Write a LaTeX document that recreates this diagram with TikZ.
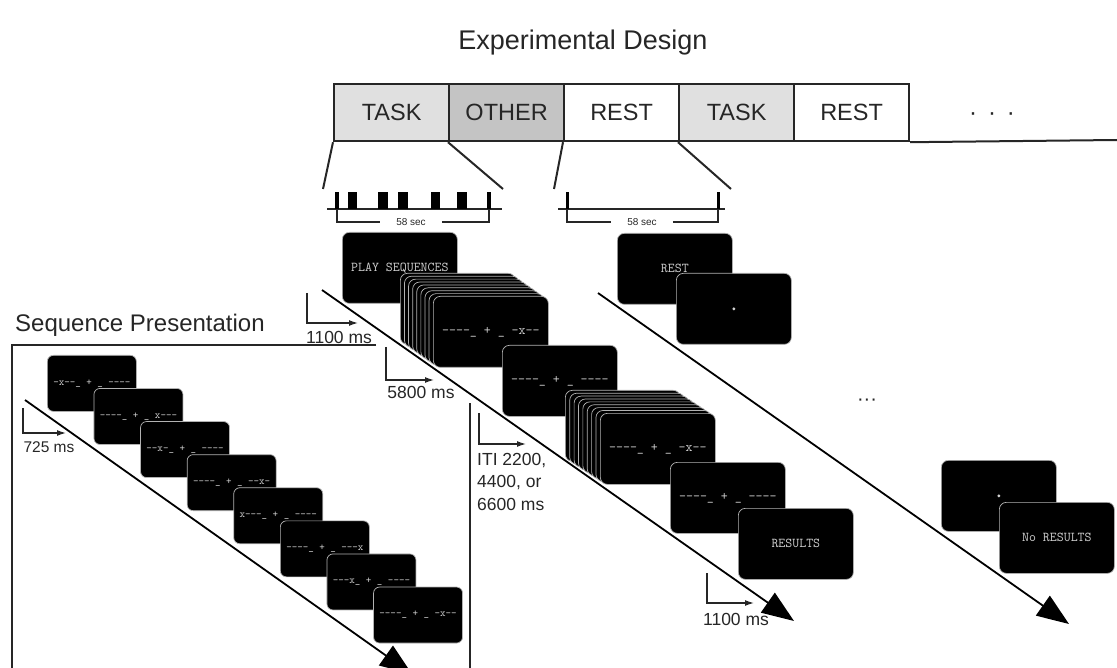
\documentclass[tikz,border=0pt]{standalone}
\usepackage{fontspec}
\setmainfont{Liberation Sans}
\usetikzlibrary{arrows.meta}
\definecolor{taskgray}{HTML}{E0E0E0}
\definecolor{othergray}{HTML}{C4C4C4}
\definecolor{scrtext}{HTML}{D0D0D0}
\definecolor{ink}{HTML}{262626}
\begin{document}
\begin{tikzpicture}[x=1pt,y=-1pt,
  blk/.style={draw=ink, line width=2.2pt, minimum width=115pt, minimum height=57pt, inner sep=0pt, anchor=north west, font=\fontsize{23.5}{26}\selectfont, text=ink},
  scr/.style={draw=gray!60, fill=black, line width=0.7pt, rounded corners=7pt, minimum width=115pt, minimum height=71pt, inner sep=0pt, anchor=north west, text=scrtext, font=\ttfamily\fontsize{13.5}{14}\selectfont},
  sscr/.style={scr, minimum width=89pt, minimum height=56pt, rounded corners=6pt, font=\ttfamily\fontsize{10.5}{12}\selectfont},
  lbl/.style={font=\fontsize{17.5}{22.5}\selectfont, text=ink, inner sep=0pt},
  sec/.style={font=\fontsize{10}{12}\selectfont, text=ink, inner ysep=0pt, inner xsep=16pt},
  zl/.style={line width=2pt, draw=ink},
  tl/.style={line width=1.5pt, draw=ink},
  bigarrow/.style={line width=1.8pt, draw=black, -{Triangle[length=32pt,width=24pt]}},
  tmark/.style={line width=1.3pt, draw=ink, -{Latex[length=9pt,width=6pt]}}
]
\useasboundingbox (0,0) rectangle (1117,668);

% title
\node[font=\fontsize{27}{30}\selectfont, text=ink] (title) at (583,43) {Experimental Design};

% block bar
\node[blk, fill=taskgray] (b1) at (333,83) {TASK};
\node[blk, fill=othergray] (b2) at (448,83) {OTHER};
\node[blk, fill=white] (b3) at (563,83) {REST};
\node[blk, fill=taskgray] (b4) at (678,83) {TASK};
\node[blk, fill=white] (b5) at (793,83) {REST};
\coordinate (barend) at (1117,140);
\draw[zl] (b5.south east) -- (barend);
\node[font=\fontsize{24}{26}\selectfont, text=ink] (tdots) at (992,117) {·\hspace{11pt}·\hspace{11pt}·};

% zoom lines
\coordinate (z1) at (323,189);
\coordinate (z2) at (503,189);
\coordinate (z3) at (554,189);
\coordinate (z4) at (731,189);
\draw[zl] (b1.south west) -- (z1);
\draw[zl] (b2.south west) -- (z2);
\draw[zl] (b3.south west) -- (z3);
\draw[zl] (b4.south west) -- (z4);

% timeline 1
\coordinate (t1a) at (327,209);
\coordinate (t1b) at (502,209);
\draw[tl] (t1a) -- (t1b);
\foreach \xa/\xb in {335/339, 348/357, 378/388, 398/408, 431/440, 457/467, 487/491}
  \fill[black] (\xa,192) rectangle (\xb,209);
\node[sec] (s1) at (411,222) {58 sec};
\draw[line width=1.3pt, draw=ink] (337,209) |- (s1.west);
\draw[line width=1.3pt, draw=ink] (s1.east) -| (489,209);

% timeline 2
\coordinate (t2a) at (558,209);
\coordinate (t2b) at (725,209);
\draw[tl] (t2a) -- (t2b);
\fill[black] (565.5,192) rectangle (568.5,209);
\fill[black] (716.5,192) rectangle (719.5,209);
\node[sec] (s2) at (642,222) {58 sec};
\draw[line width=1.3pt, draw=ink] (567,209) |- (s2.west);
\draw[line width=1.3pt, draw=ink] (s2.east) -| (718,209);

% task arrow
\coordinate (a1s) at (322,290);
\coordinate (a1e) at (794,621);
\draw[bigarrow] (a1s) -- (a1e);

% rest arrow
\coordinate (a2s) at (598,293);
\coordinate (a2e) at (1069,624);
\draw[bigarrow] (a2s) -- (a2e);

% task screens
\node[scr] (play) at (342,232) {PLAY SEQUENCES};
\foreach \i in {0,...,7}
  \node[scr] (stka\i) at (400+4.1*\i, 273+2.9*\i) {};
\node[scr] (f1) at (433,296) {----\_ + \_ -x--};
\node[scr] (q2) at (502,345) {----\_ + \_ ----};
\foreach \i in {0,...,7}
  \node[scr] (stkb\i) at (565+4.375*\i, 390+2.875*\i) {};
\node[scr] (f2) at (600,413) {----\_ + \_ -x--};
\node[scr] (q4) at (670,462) {----\_ + \_ ----};
\node[scr] (res) at (738,508) {RESULTS};

% rest screens
\node[scr] (rest) at (617,233) {REST};
\node[scr] (fix) at (676,273) {};
\fill[scrtext] (fix.center) circle (1.6);
\node[font=\fontsize{20}{22}\selectfont, text=ink] (mdots) at (867,402) {···};
\node[scr] (rfix) at (941,460) {};
\fill[scrtext] (rfix.center) circle (1.6);
\node[scr] (nores) at (999,502) {No RESULTS};

% time markers (task)
\coordinate (m1a) at (307,293);
\coordinate (m1b) at (358,323);
\draw[tmark] (m1a) |- (m1b);
\node[lbl] (l1) at (339,337) {1100 ms};
\coordinate (m2a) at (386,347);
\coordinate (m2b) at (434,380);
\draw[tmark] (m2a) |- (m2b);
\node[lbl] (l2) at (421,392) {5800 ms};
\coordinate (m3a) at (479,413);
\coordinate (m3b) at (526,444);
\draw[tmark] (m3a) |- (m3b);
\node[lbl, align=left, anchor=north west] (l3) at (477,453) {ITI 2200,\\4400, or\\6600 ms};
\coordinate (m4a) at (707,573);
\coordinate (m4b) at (754,603);
\draw[tmark] (m4a) |- (m4b);
\node[lbl] (l4) at (736,619) {1100 ms};

% sequence presentation panel
\node[font=\fontsize{24}{28}\selectfont, text=ink, anchor=west, inner sep=0pt] (seqtitle) at (15,325) {Sequence Presentation};
\coordinate (p1) at (376,345);
\coordinate (p2) at (12,345);
\coordinate (p3) at (12,672);
\draw[zl] (p1) -- (p2) -- (p3);
\coordinate (v1) at (470,403);
\coordinate (v2) at (470,672);
\draw[zl] (v1) -- (v2);

\coordinate (a3s) at (25,400);
\coordinate (a3e) at (412,674);
\draw[bigarrow] (a3s) -- (a3e);

\foreach \t [count=\i from 0] in {-x--\_ + \_ ----, ----\_ + \_ x---, --x-\_ + \_ ----, ----\_ + \_ --x-, x---\_ + \_ ----, ----\_ + \_ ---x, ---x\_ + \_ ----, ----\_ + \_ -x--}
  \node[sscr] (ss\i) at (47+46.6*\i, 355+33.1*\i) {\t};

\coordinate (m5a) at (23,408);
\coordinate (m5b) at (66,433);
\draw[tmark] (m5a) |- (m5b);
\node[lbl, font=\fontsize{15.5}{18}\selectfont] (l5) at (49,447) {725 ms};
\end{tikzpicture}
\end{document}
